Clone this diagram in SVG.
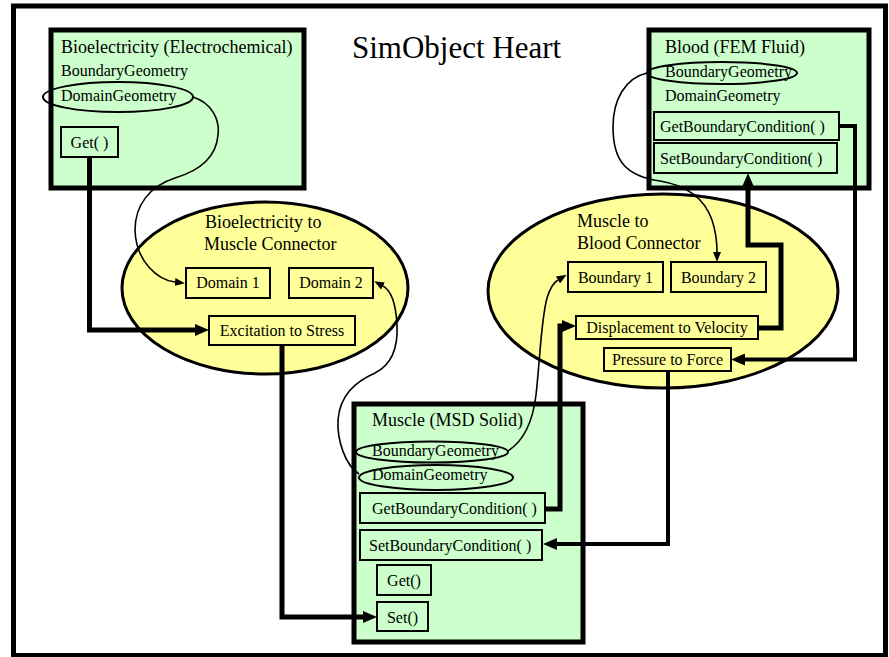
<svg xmlns="http://www.w3.org/2000/svg" width="889" height="657" viewBox="0 0 889 657">
  <defs>
    <style>
      text { font-family: "Liberation Serif", "Times New Roman", serif; fill: #000; }
      .t16 { font-size: 16px; }
      .t18 { font-size: 18px; }
      .c { text-anchor: middle; }
      .sim { fill: #ccffcc; stroke: #000; stroke-width: 5; }
      .conn { fill: #ffff99; stroke: #000; stroke-width: 3; }
      .item { fill: none; stroke: #000; stroke-width: 2; }
      .geo { fill: none; stroke: #000; stroke-width: 2; }
      .flow { fill: none; stroke: #000; stroke-width: 5; stroke-linejoin: miter; }
      .flow4 { stroke-width: 4; }
      .link { fill: none; stroke: #000; stroke-width: 1.6; }
    </style>
    <marker id="bigHead" markerUnits="userSpaceOnUse" markerWidth="14" markerHeight="12" viewBox="0 0 14 12" refX="0" refY="6" orient="auto">
      <path d="M0,0 L14,6 L0,12 z" fill="#000"/>
    </marker>
    <marker id="smallHead" markerUnits="userSpaceOnUse" markerWidth="10" markerHeight="8" viewBox="0 0 10 8" refX="0" refY="4" orient="auto">
      <path d="M0,0 L10,4 L0,8 z" fill="#000"/>
    </marker>
  </defs>

  <rect x="0" y="0" width="889" height="657" fill="#fff"/>
  <!-- outer frame -->
  <rect x="13.5" y="6" width="872" height="649.5" fill="#fff" stroke="#000" stroke-width="5"/>

  <text class="title" x="352" y="58" style="font-size:31px">SimObject Heart</text>

  <!-- Bioelectricity simulation object -->
  <g id="bioelectricity">
    <rect class="sim" x="51" y="30" width="253" height="158"/>
    <text class="t18" x="61" y="53">Bioelectricity (Electrochemical)</text>
    <text class="t16" x="61" y="76">BoundaryGeometry</text>
    <ellipse class="geo" cx="118" cy="97" rx="75" ry="15"/>
    <text class="t16" x="61" y="101">DomainGeometry</text>
    <rect class="item" x="61" y="127" width="57" height="30"/>
    <text class="t16 c" x="89.5" y="148">Get( )</text>
  </g>

  <!-- Blood simulation object -->
  <g id="blood">
    <rect class="sim" x="649" y="30" width="220" height="158"/>
    <text class="t18" x="665" y="53">Blood (FEM Fluid)</text>
    <ellipse class="geo" cx="722" cy="73" rx="75" ry="11"/>
    <text class="t16" x="665" y="77">BoundaryGeometry</text>
    <text class="t16" x="665" y="101">DomainGeometry</text>
    <rect class="item" x="654" y="112" width="185" height="28"/>
    <text class="t16" x="660" y="132">GetBoundaryCondition( )</text>
    <rect class="item" x="654" y="143" width="183" height="30"/>
    <text class="t16" x="660" y="164">SetBoundaryCondition( )</text>
  </g>

  <!-- Bioelectricity to Muscle connector -->
  <g id="bio-muscle-connector">
    <ellipse class="conn" cx="265" cy="288" rx="143" ry="86"/>
    <text class="t18" x="205" y="228">Bioelectricity to</text>
    <text class="t18" x="204" y="250">Muscle Connector</text>
    <rect class="item" x="186" y="268" width="84" height="30"/>
    <text class="t16 c" x="228" y="288">Domain 1</text>
    <rect class="item" x="289" y="268" width="84" height="30"/>
    <text class="t16 c" x="331" y="288">Domain 2</text>
    <rect class="item" x="209" y="316" width="146" height="29"/>
    <text class="t16 c" x="282" y="336">Excitation to Stress</text>
  </g>

  <!-- Muscle to Blood connector -->
  <g id="muscle-blood-connector">
    <ellipse class="conn" cx="663" cy="291" rx="175" ry="97"/>
    <text class="t18" x="577" y="227">Muscle to</text>
    <text class="t18" x="577" y="249">Blood Connector</text>
    <rect class="item" x="568" y="262" width="95" height="30"/>
    <text class="t16 c" x="615.5" y="283">Boundary 1</text>
    <rect class="item" x="671" y="262" width="95" height="30"/>
    <text class="t16 c" x="718.5" y="283">Boundary 2</text>
    <rect class="item" x="576" y="316" width="182" height="23"/>
    <text class="t16 c" x="667" y="333">Displacement to Velocity</text>
    <rect class="item" x="604" y="348" width="127" height="23"/>
    <text class="t16 c" x="667.5" y="365">Pressure to Force</text>
  </g>

  <!-- Muscle simulation object -->
  <g id="muscle">
    <rect class="sim" x="354" y="404" width="229" height="238"/>
    <text class="t18" x="372" y="426">Muscle (MSD Solid)</text>
    <ellipse class="geo" cx="432" cy="452" rx="76" ry="10.5"/>
    <text class="t16" x="372" y="456">BoundaryGeometry</text>
    <ellipse class="geo" cx="436" cy="477.5" rx="77" ry="12.5"/>
    <text class="t16" x="372" y="480">DomainGeometry</text>
    <rect class="item" x="360" y="493" width="185" height="30"/>
    <text class="t16" x="372" y="514">GetBoundaryCondition( )</text>
    <rect class="item" x="360" y="530" width="182" height="30"/>
    <text class="t16" x="369" y="551">SetBoundaryCondition( )</text>
    <rect class="item" x="377" y="565" width="54" height="30"/>
    <text class="t16 c" x="404" y="586">Get()</text>
    <rect class="item" x="377" y="602" width="51" height="29"/>
    <text class="t16 c" x="402.5" y="623">Set()</text>
  </g>

  <!-- data flow and geometry links -->
  <g id="connectors">
    <path class="flow" d="M89.5,157 V330 H195" marker-end="url(#bigHead)"/>
    <path class="flow" d="M282,345 V617 H363" marker-end="url(#bigHead)"/>
    <path class="flow" d="M545,509 H560 V326 H562" marker-end="url(#bigHead)"/>
    <path class="flow" d="M758,328 H781 V245 H748 V187" marker-end="url(#bigHead)"/>
    <path class="flow flow4" d="M839,126 H855 V359.5 H745" marker-end="url(#bigHead)"/>
    <path class="flow flow4" d="M668,371 V544 H557" marker-end="url(#bigHead)"/>

    <path class="link" d="M193,97 C212,103 220,120 218,135 C216,160 195,172 175,178 C150,186 135,205 135,230 C136,262 158,280 175,282" marker-end="url(#smallHead)"/>
    <path class="link" d="M359,474 C345,465 337,440 338,420 C340,395 355,382 375,373 C393,364 398,345 397,325 C396,305 392,291 383,286" marker-end="url(#smallHead)"/>
    <path class="link" d="M508,451 C525,440 533,420 536,395 C540,360 541,320 547,298 C550,288 553,283 558,280" marker-end="url(#smallHead)"/>
    <path class="link" d="M647,73 C625,78 613,100 613,127 C613,160 625,176 660,181 C690,186 705,200 712,220 C716,232 717,242 717,252" marker-end="url(#smallHead)"/>
  </g>
</svg>
